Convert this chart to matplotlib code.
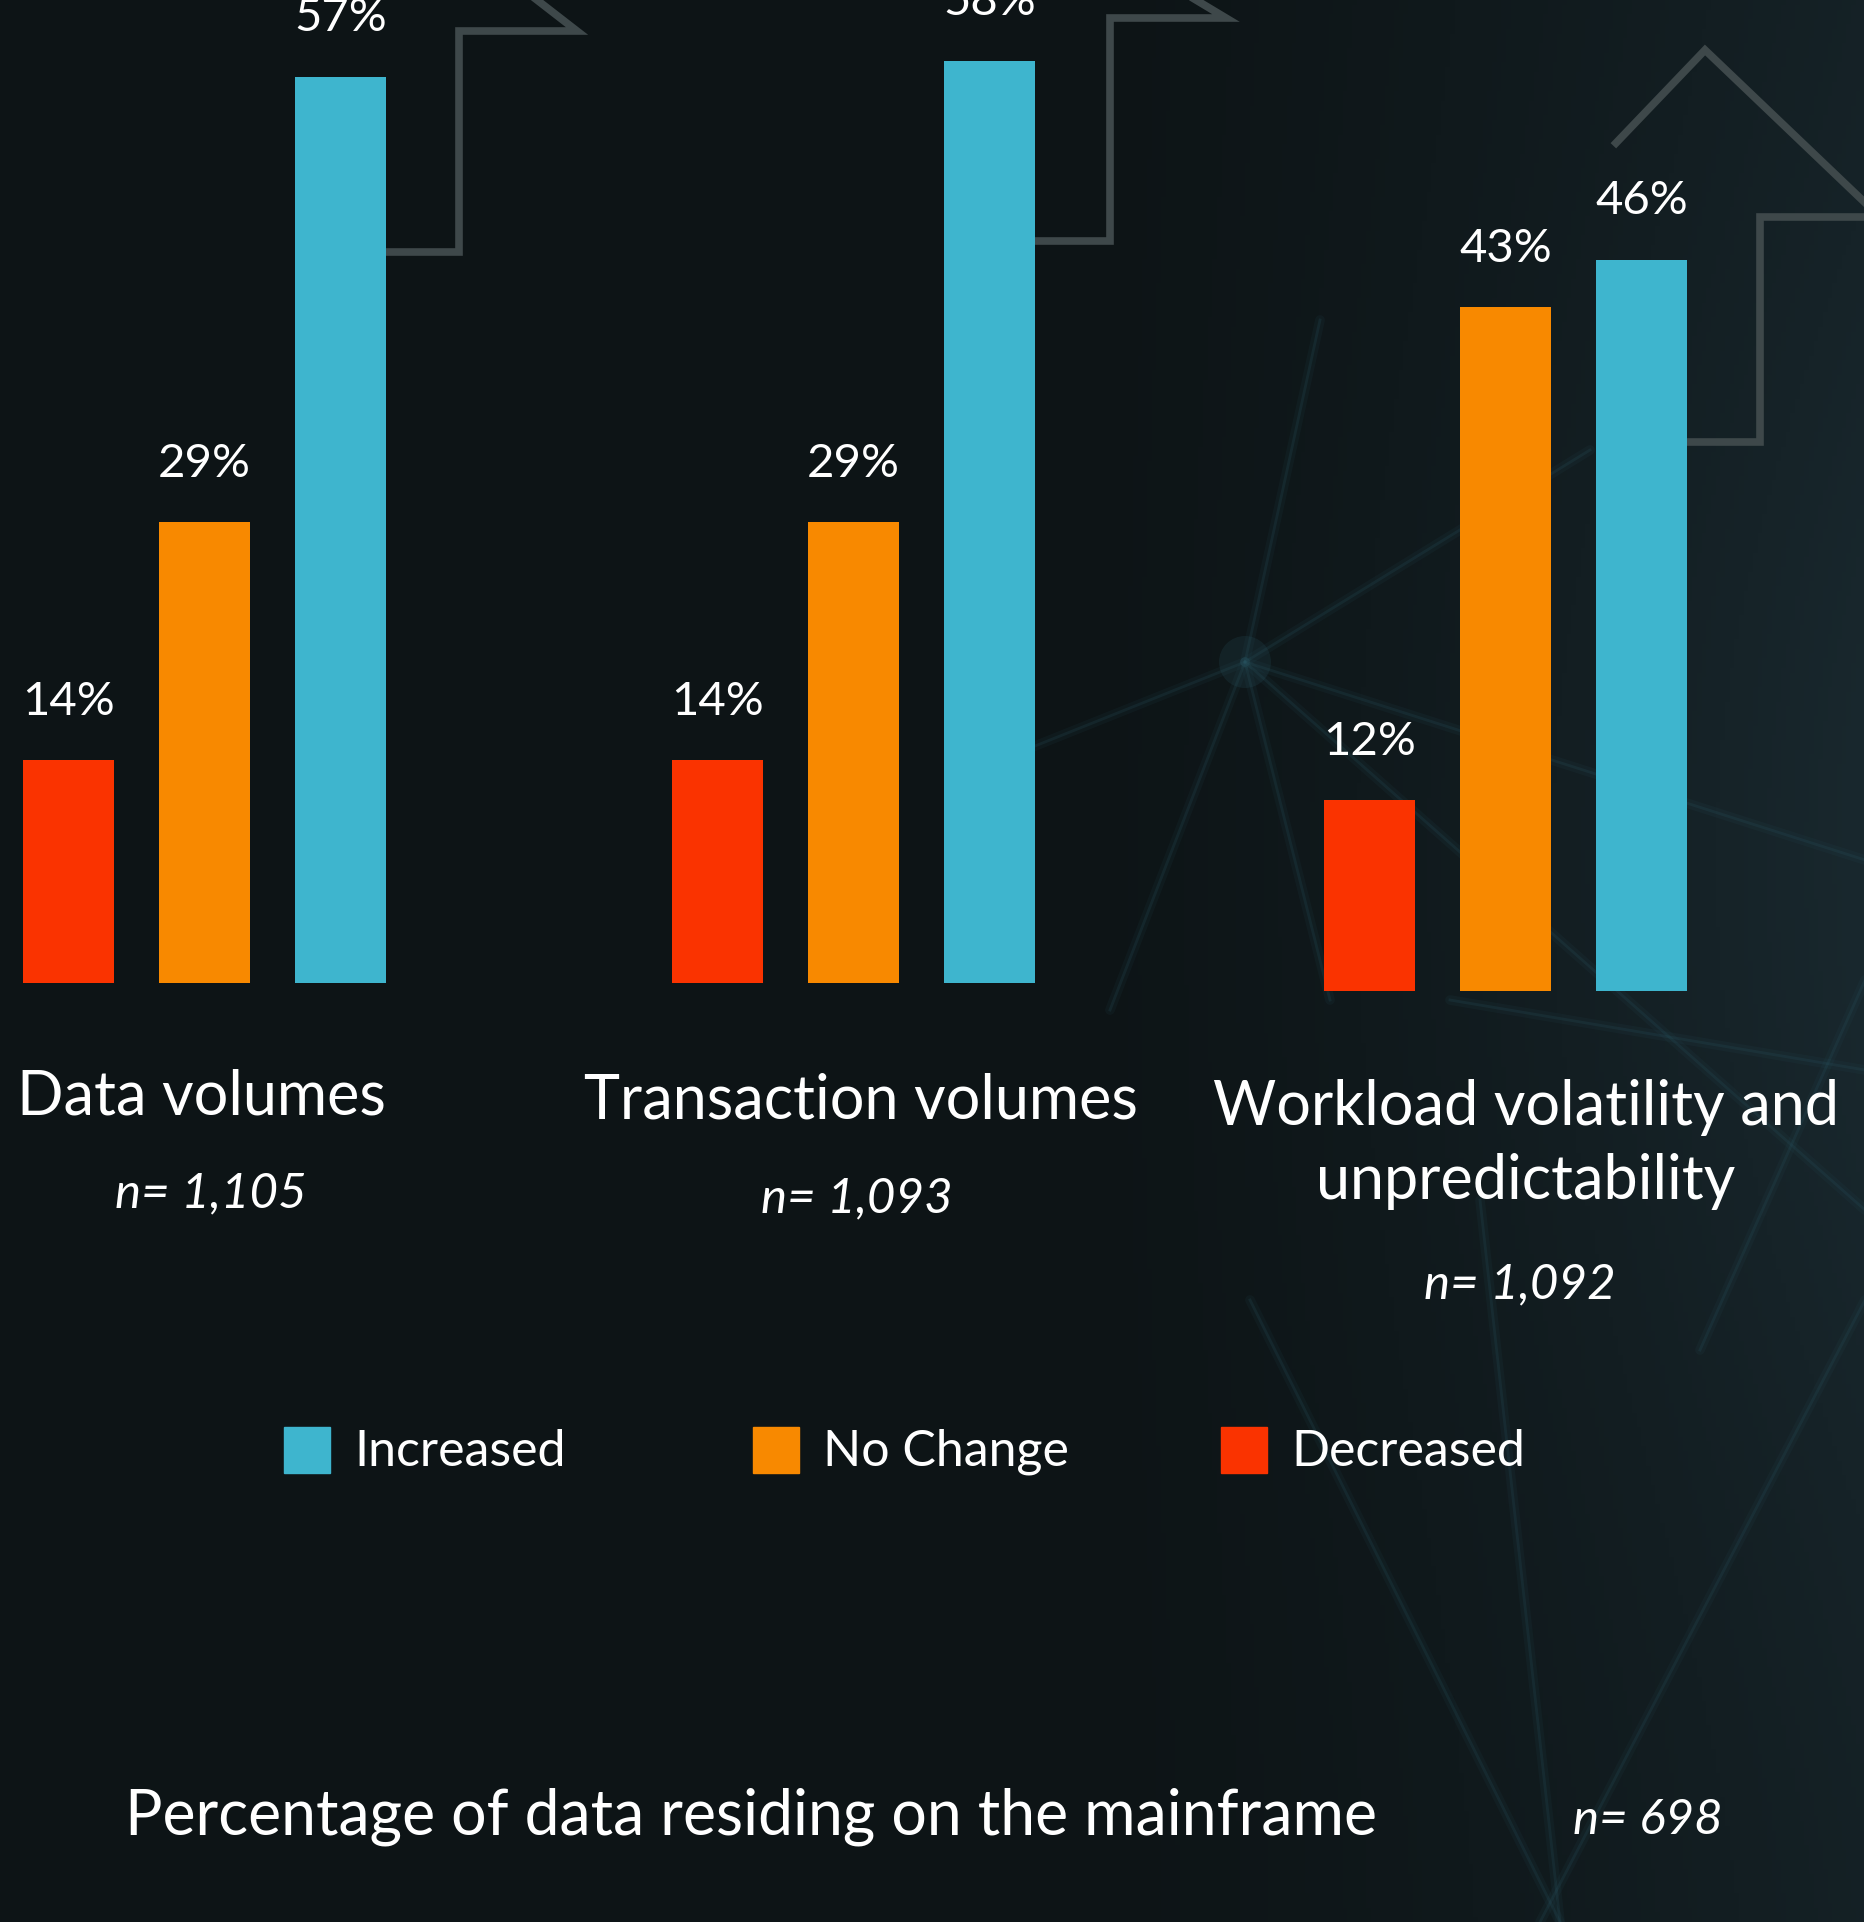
import numpy as np
import matplotlib
matplotlib.use("Agg")
import matplotlib.pyplot as plt

# ---- data ----
categories = ["Data volumes", "Transaction volumes", "Workload volatility and\nunpredictability"]
sample_sizes = ["n= 1,105", "n= 1,093", "n= 1,092"]
series = ["Decreased", "No Change", "Increased"]
decreased = [14, 14, 12]
no_change = [29, 29, 43]
increased = [57, 58, 46]
footer = "Percentage of data residing on the mainframe"
footer_n = "n= 698"

colors = {"Increased": "#3eb5ce", "No Change": "#f88900", "Decreased": "#fa3300"}
BG = "#0d1416"
ARROW = "#3e484a"
FONT = "Lato"

W, H = 1865, 1922
fig = plt.figure(figsize=(W / 100, H / 100), dpi=100)
fig.patch.set_facecolor(BG)

# background axes in pixel coordinates
bg = fig.add_axes([0, 0, 1, 1])
bg.set_xlim(0, W)
bg.set_ylim(H, 0)
bg.axis("off")

# soft gradient: lighter teal towards the right
gx = np.linspace(0, 1, 400)
gy = np.linspace(0, 1, 400)
GX, GY = np.meshgrid(gx, gy)
glow = np.clip((GX - 0.55) / 0.45, 0, 1) ** 1.5 * (0.6 + 0.4 * np.exp(-((GY - 0.45) / 0.35) ** 2))
base = np.array([13, 20, 22]) / 255
tint = np.array([25, 40, 46]) / 255
img = base[None, None, :] * (1 - glow[..., None]) + tint[None, None, :] * glow[..., None]
bg.imshow(img, extent=[0, W, H, 0], aspect="auto", zorder=0)

# faint network lines (decoration), drawn as soft double strokes
node = (1245, 662)
net = [(node, (1110, 1010)), (node, (1330, 1000)), (node, (1865, 860)), (node, (1590, 450)),
       (node, (1000, 760)), (node, (1320, 320)), (node, (1865, 1210)),
       ((1450, 1000), (1865, 1070)), ((1540, 1922), (1865, 1300)), ((1480, 1200), (1560, 1922)),
       ((1700, 1350), (1865, 980)), ((1250, 1300), (1560, 1922))]
for a, b in net:
    bg.plot([a[0], b[0]], [a[1], b[1]], color="#2a5663", lw=7, alpha=0.10, zorder=1,
            solid_capstyle="round")
    bg.plot([a[0], b[0]], [a[1], b[1]], color="#2a5663", lw=2, alpha=0.2, zorder=1)
bg.scatter([node[0]], [node[1]], s=1400, color="#2a5663", alpha=0.2, zorder=1, edgecolor="none")

# outline arrows behind the blue bars
arrows = [
    [(341, 252), (459, 252), (459, 31), (577, 31), (537, 0), (497, -31)],
    [(1000, 241), (1110, 241), (1110, 18), (1226, 18), (1196, 0), (1166, -18)],
    [(1642, 442), (1760, 442), (1760, 217), (1880, 217), (1705, 50), (1616, 143)],
]
for pts in arrows:
    xs, ys = zip(*pts)
    bg.plot(xs, ys, color=ARROW, lw=5.5, solid_joinstyle="miter", zorder=2)

# ---- bar groups ----
red_centers = [68.7, 717.4, 1369.6]
baselines = [983, 983, 991]
step = 136.0
px_per_pct = 15.9
ymax = 60

for i in range(3):
    left = red_centers[i] - 0.5 * step
    width = 3 * step
    height = ymax * px_per_pct
    ax = fig.add_axes([left / W, (H - baselines[i]) / H, width / W, height / H])
    ax.set_xlim(-0.5, 2.5)
    ax.set_ylim(0, ymax)
    ax.axis("off")
    ax.patch.set_alpha(0)
    vals = [decreased[i], no_change[i], increased[i]]
    for j, (name, v) in enumerate(zip(series, vals)):
        ax.bar(j, v, width=0.67, color=colors[name], zorder=3)
        ax.annotate(f"{v}%", (j, v), xytext=(0, 42), textcoords="offset points",
                    ha="center", va="center", color="white", fontsize=34,
                    family=FONT, annotation_clip=False, clip_on=False)

# category labels and sample sizes
cat_lines = [c.split("\n") for c in categories]
cat_pos = [(201, 1097), (861, 1101), (1526, 1107)]
n_pos = [(211, 1193), (857, 1198), (1520, 1284)]
for i in range(3):
    for k, line in enumerate(cat_lines[i]):
        bg.text(cat_pos[i][0], cat_pos[i][1] + 74 * k, line, ha="center", va="center",
                color="white", fontsize=44, family=FONT)
    bg.text(n_pos[i][0], n_pos[i][1], sample_sizes[i], ha="center", va="center",
            color="white", fontsize=35.5, family=FONT, style="italic")

# legend
legend_x = [284, 753, 1221]
for name, x in zip(["Increased", "No Change", "Decreased"], legend_x):
    bg.add_patch(plt.Rectangle((x, 1427), 46, 46, color=colors[name], zorder=3))
    bg.text(x + 70, 1452, name, ha="left", va="center", color="white",
            fontsize=36, family=FONT)

# footer
bg.text(125, 1817, footer, ha="left", va="center", color="white",
        fontsize=45, family=FONT)
bg.text(1573, 1820, footer_n, ha="left", va="center", color="white",
        fontsize=35.5, family=FONT, style="italic")

fig.savefig("out.png", dpi=100, facecolor=BG)
